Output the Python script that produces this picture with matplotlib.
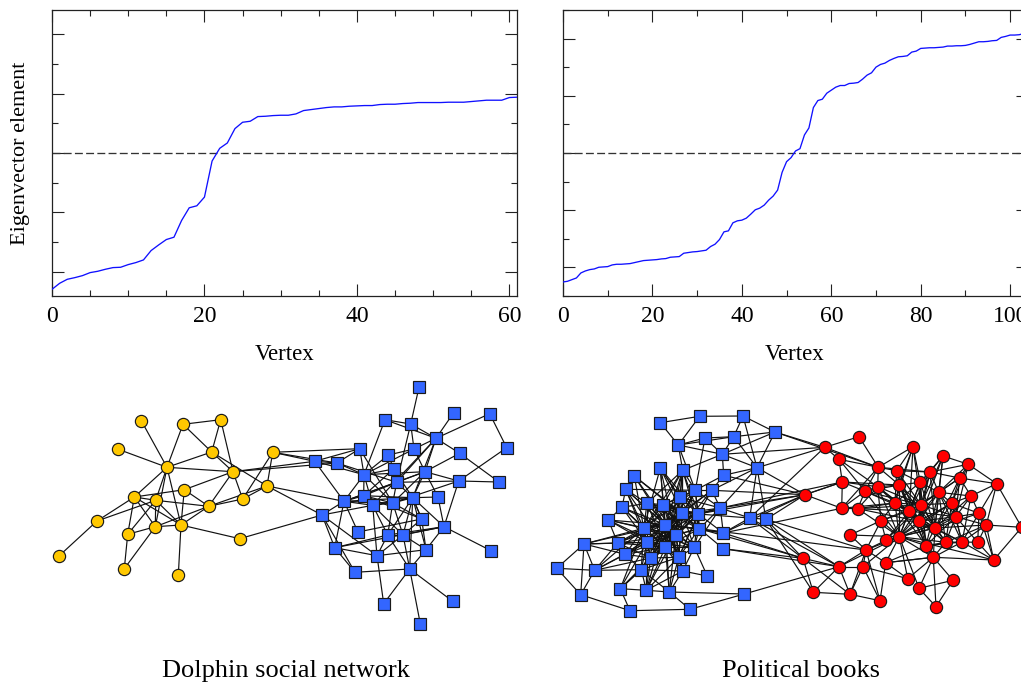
import matplotlib
matplotlib.use("Agg")
import matplotlib.pyplot as plt
import numpy as np
from matplotlib.collections import LineCollection
from matplotlib.ticker import MultipleLocator, NullFormatter

plt.rcParams['font.family'] = ['Liberation Serif', 'DejaVu Serif']

dolphin_vector = [-408,-390,-378,-373,-367,-358,-354,-348,-343,-342,-334,-328,-320,-292,-275,-259,-252,-202,-164,-158,-132,-24,14,30,73,92,95,109,110,112,113,113,117,127,130,133,136,138,138,140,141,142,142,145,146,146,148,149,151,151,151,151,152,152,152,154,156,158,158,158,166,167]
books_vector = [-386,-384,-379,-374,-359,-353,-349,-347,-342,-341,-340,-335,-333,-333,-332,-331,-328,-325,-322,-321,-320,-319,-317,-316,-312,-311,-310,-300,-298,-296,-295,-293,-291,-280,-273,-259,-236,-233,-209,-203,-201,-195,-183,-170,-165,-156,-141,-129,-111,-58,-26,-14,6,13,54,75,136,157,161,179,188,197,202,202,208,209,211,221,233,240,257,265,269,277,283,288,289,291,302,305,313,314,315,315,316,317,320,320,321,321,322,325,329,333,333,334,336,337,346,349,353,353,354,357,359]

dolphin_yellow = [(141.3,420.7),(183,424.3),(220.7,419.7),(118.3,449.3),(211.7,452),(167,467.3),(272.7,452.3),(233,471.7),(267,486),(184.3,489.7),(134.3,497),(155.7,500.3),(242.7,499),(208.7,506.3),(97,521),(155.3,526.7),(181,525),(127.7,534.3),(239.7,538.7),(59.3,555.7),(124.3,568.7),(178.3,575.3)]
dolphin_blue = [(419,387.3),(453.7,412.7),(489.7,413.7),(385,419.7),(410.7,424),(436,438.3),(506.7,447.7),(359.7,448.7),(414,449),(388.3,455),(459.7,453.3),(314.7,461.3),(337,463),(393.7,469),(425,471.7),(364,474.7),(396.7,482.3),(458.7,481),(499,482),(363.7,495.7),(344,501.3),(372.7,505.3),(392.7,503),(412.7,497.7),(438,497),(322,515),(421.7,519),(358,532),(444,526.7),(387.7,535),(403,535),(334.7,547.7),(426,549.7),(377,555.7),(491,550.7),(355,572.3),(409.7,569),(383.7,603.7),(452.7,601.3),(420.3,623.7)]
dolphin_yy = [(1,6),(2,6),(2,3),(2,5),(3,5),(3,8),(4,6),(5,6),(5,8),(5,9),(6,8),(6,11),(6,12),(6,16),(6,17),(7,9),(7,13),(8,13),(8,14),(8,10),(9,13),(9,14),(10,14),(10,17),(10,11),(11,12),(11,15),(11,18),(11,16),(11,17),(12,14),(12,16),(12,17),(12,18),(13,14),(14,16),(14,17),(15,12),(15,20),(16,17),(16,18),(16,21),(17,22),(17,19),(18,21)]
dolphin_bb = [(1,5),(2,6),(3,6),(3,7),(4,5),(4,6),(4,16),(5,6),(5,9),(5,17),(6,15),(6,24),(6,17),(6,22),(6,11),(6,9),(11,19),(11,15),(7,18),(18,19),(18,15),(18,17),(18,23),(18,29),(15,25),(15,24),(15,23),(15,17),(15,21),(15,9),(9,16),(9,10),(10,14),(10,16),(14,17),(14,24),(14,16),(14,20),(8,12),(8,13),(8,16),(8,23),(12,13),(12,16),(12,21),(13,16),(13,17),(16,20),(16,21),(16,22),(16,23),(20,21),(20,23),(20,24),(21,26),(21,22),(21,23),(21,24),(21,28),(21,32),(26,32),(26,36),(26,22),(22,34),(22,23),(22,24),(23,24),(23,30),(23,27),(24,25),(24,27),(24,33),(24,37),(25,29),(27,31),(27,33),(27,28),(29,30),(29,31),(29,33),(29,35),(30,31),(30,34),(30,37),(31,33),(31,37),(31,34),(32,34),(32,36),(32,29),(32,30),(34,33),(34,38),(36,37),(37,38),(37,39),(37,40),(33,37),
    (17,24),(17,23),(17,21),(17,20),(15,16),(24,30),(24,31),(23,31),(22,30),(20,27),(27,24),(29,24),(22,31),(26,34)]
dolphin_yb = [(7,8),(7,12),(7,13),(8,12),(8,13),(9,21),(9,26),(19,26)]

books_blue = [(660.3,422.7),(699.7,416.3),(743,416),(775,432),(705,438),(733.7,436.7),(678.3,445),(722.3,454.3),(757,467.7),(660.3,468),(682.7,470.3),(723.7,475.3),(634.3,476),(625.7,489.3),(695.3,490.3),(711.7,490.3),(680,497.3),(647,503.3),(663.3,504.7),(622,507.3),(720.3,508),(682.3,513.3),(698.3,514),(608.3,520),(749.7,518),(766,519.3),(665.3,524.7),(643.7,528.3),(699.3,528.7),(675.7,534.7),(723.3,533),(647,542.3),(617.7,543),(584,544),(665.3,547.3),(694.3,547.3),(723.3,548.7),(625.3,554.3),(650.7,558),(678.7,557.3),(556.7,568.3),(594.7,570.3),(641.3,569.7),(682.7,571),(707.3,576),(620.3,588.7),(646.3,590.3),(669.3,592),(580.7,594.7),(744.3,594),(690,609.3),(630,610.7)]
books_red = [(859,436.7),(824.7,447.3),(913,446.7),(943,456),(839,459.3),(968.3,464.3),(878.3,467.3),(896.7,470.7),(930,472),(959.7,478),(842.3,482),(920.3,482.3),(996.7,483.7),(877.7,486.7),(899.3,485),(865,491.3),(938.7,492.3),(805,494.7),(971,496),(895,503),(921,504.7),(951.7,503.3),(841.7,508.3),(857.7,508.7),(909.3,511),(979,513.3),(955.7,516.7),(881,520.7),(919,521.3),(986.3,525),(935,528),(1021.7,527.3),(850,535),(899.3,536.7),(886,540.3),(926,545.7),(945.7,542.3),(962,542),(977.7,542.3),(866,550),(803,558.3),(933.3,557.3),(993.7,560),(839,566.7),(863,566.7),(885.7,562.7),(907.7,578.7),(953,580.3),(919,588.3),(813.3,592.3),(850,594.3),(880,600.7),(936,606.7)]
books_bb = [(1,2),(1,7),(2,3),(2,7),(3,4),(3,6),(3,9),(4,6),(4,8),(4,9),(5,6),(5,7),(5,8),(6,7),(6,8),(6,9),(7,8),(7,11),(7,15),(8,9),(8,11),(8,12),(5,15),(9,12),(9,25),(9,26),(9,21),(9,16),(10,17),(10,19),(10,22),(11,15),(11,17),(11,18),(11,19),(11,22),(12,16),(12,15),(13,28),(13,27),(14,15),(14,20),(14,28),(14,18),(14,32),(18,19),(18,28),(18,27),(18,20),(19,17),(19,27),(19,28),(19,22),(19,30),(19,29),(20,24),(20,28),(20,32),(24,28),(24,33),(24,32),(28,27),(28,32),(28,30),(28,35),(28,39),(28,33),(28,38),(28,22),(28,23),(28,36),(28,40),(28,43),(27,22),(27,23),(27,30),(27,32),(27,35),(27,39),(27,40),(27,29),(27,17),(22,23),(22,30),(22,29),(22,35),(22,17),(22,15),(22,36),(23,29),(23,30),(23,15),(23,21),(23,16),(23,25),(23,35),(23,36),(23,31),(29,30),(29,36),(29,35),(29,31),(29,37),(29,21),(29,40),(30,35),(30,32),(30,36),(30,40),(30,39),(30,43),(32,35),(32,38),(32,39),(32,33),(32,43),(32,47),(35,39),(35,40),(35,36),(35,43),(35,48),(36,40),(36,44),(36,45),(39,43),(39,38),(39,40),(39,47),(39,46),(40,44),(40,48),(40,43),(40,47),(38,33),(38,34),(38,42),(38,43),(33,34),(33,42),(33,39),(34,41),(34,42),(34,49),(41,42),(41,49),(42,49),(42,43),(43,46),(43,47),(43,48),(43,44),(46,47),(46,52),(47,48),(47,44),(48,50),(48,51),(48,44),(44,45),(49,52),(52,51),(51,50),(15,16),(15,17),(15,21),(15,19),(16,21),(17,21),(17,23),(21,25),(21,31),(25,31),(25,26),(11,23),(11,29),(15,29),(15,30),(17,28),(17,35),(17,30),(18,22),(18,32),(19,23),(19,35),
    (10,27),(10,28),(10,23),(10,29),(10,30),(11,27),(11,28),(11,30),(11,35),(13,22),(13,29),(13,30),(14,27),(14,30),(14,35),(20,27),(20,30),(20,35),(24,27),(24,30),(24,35),(33,27),(33,30),(33,22),(33,35),(38,27),(38,30),(38,35),(38,22),(34,28),(34,32),(34,27),(42,28),(42,32),(42,39),(43,30),(43,27),(43,22),(46,32),(46,35),(46,28),(47,35),(47,30),(47,27),(48,30),(48,27),(44,30),(44,35),(44,27),(39,27),(39,22),(39,23),(40,27),(40,22),(40,23),(18,29),(18,23),(18,35),(18,30),(19,36),(19,40),(22,40),(22,39),(23,40),(23,39),(36,27),(36,28),(36,32),(32,22),(32,23),(32,29),(32,40),(15,27),(15,28),(15,35),(16,27),(16,30),(16,22),(21,22),(21,27),(21,28),(21,36),(31,27)]
books_rr = [(1,2),(1,7),(2,5),(2,7),(3,7),(3,8),(3,12),(3,15),(4,9),(4,6),(4,12),(4,17),(4,21),(5,11),(5,7),(5,14),(5,16),(6,13),(6,9),(6,10),(6,17),(7,8),(7,9),(7,14),(7,15),(7,16),(8,9),(8,15),(8,20),(8,12),(9,12),(9,10),(9,17),(9,21),(10,13),(10,17),(10,22),(10,19),(11,16),(11,14),(11,15),(11,18),(11,23),(12,15),(12,17),(12,20),(12,21),(12,25),(12,29),(13,19),(13,26),(13,32),(13,30),(14,15),(14,16),(14,20),(14,24),(14,28),(15,20),(15,21),(15,16),(15,25),(15,29),(15,34),(16,24),(16,20),(16,23),(17,21),(17,22),(17,27),(17,29),(17,25),(17,31),(17,19),(18,23),(18,11),(19,22),(19,26),(19,27),(20,21),(20,25),(20,24),(20,34),(20,28),(20,29),(21,22),(21,25),(21,27),(21,29),(21,31),(21,34),(21,36),(21,37),(22,26),(22,27),(22,31),(22,38),(23,24),(24,25),(25,29),(25,31),(25,34),(26,30),(26,27),(26,38),(26,43),(27,31),(27,37),(27,38),(27,39),(28,34),(28,35),(28,40),(28,33),(29,31),(29,34),(29,36),(30,32),(30,39),(30,43),(30,31),(31,34),(31,36),(31,37),(31,38),(31,42),(32,43),(33,40),(34,35),(34,36),(34,40),(34,42),(34,45),(34,46),(34,47),(34,49),(34,44),(35,40),(36,42),(37,42),(38,42),(38,39),(38,43),(39,43),(40,44),(40,45),(40,46),(40,52),(40,51),(41,50),(41,44),(41,51),(42,43),(42,46),(42,47),(42,48),(42,49),(42,53),(44,50),(44,51),(44,45),(45,51),(45,52),(45,47),(46,52),(48,49),(48,53),(49,53),(50,51),(51,52),
    (8,21),(8,25),(8,29),(9,25),(9,29),(9,31),(14,21),(14,25),(14,29),(14,34),(16,25),(16,21),(16,34),(24,34),(24,29),(24,21),(20,31),(20,36),(25,36),(25,37),(25,27),(17,34),(17,36),(17,37),(17,38),(10,21),(10,31),(10,27),(22,29),(22,34),(22,37),(27,29),(27,34),(27,36),(29,37),(29,42),(29,38),(28,21),(28,25),(28,29),(33,34),(35,21),(35,25),(35,31),(36,37),(36,38),(37,38),(4,29),(4,31),(6,22),(6,27),(19,31),(19,38),(26,39),(26,31),(30,38),(30,37),(30,27),(12,31),(12,34),(12,36),(15,31),(15,36),(3,20),(3,25),(3,21),(23,7),(23,20),(46,42),(46,47),(46,36),(34,37),(34,43)]
books_br = [(9,2),(9,18),(26,41),(26,18),(26,44),(25,18),(25,41),(21,11),(21,18),(31,18),(31,41),(37,41),(37,44),(50,44),(4,2),(8,2),(4,7),(25,2),(23,18),(12,18),(25,44),(29,41),(26,50),(26,40),(31,23),(16,18),(29,40)]

W, H = 1021, 685
BOX_TOP, BOX_BOTTOM = 10, 296
fig = plt.figure(figsize=(W / 100, H / 100), dpi=100)


def box(x0, x1):
    return [x0 / W, 1 - BOX_BOTTOM / H, (x1 - x0) / W, (BOX_BOTTOM - BOX_TOP) / H]


def eigen_panel(x0, x1, values, xmax, major, minor, ymaj):
    ax = fig.add_axes(box(x0, x1))
    ax.plot(np.arange(len(values)), values, color='#1010ff', lw=0.95, zorder=3)
    ax.axhline(0, color='#333333', lw=0.95, dashes=(6, 2.5), zorder=2)
    ax.set_xlim(0, xmax)
    ax.set_ylim(-428, 428)
    ax.xaxis.set_major_locator(MultipleLocator(major))
    ax.xaxis.set_minor_locator(MultipleLocator(minor))
    ax.yaxis.set_major_locator(MultipleLocator(ymaj))
    ax.yaxis.set_minor_locator(MultipleLocator(ymaj / 2))
    ax.yaxis.set_major_formatter(NullFormatter())
    ax.tick_params(which='both', direction='in', top=True, right=True, width=0.8, color='#222222')
    ax.tick_params(which='major', length=8.6, labelsize=17, pad=7)
    ax.tick_params(which='minor', length=4.3)
    for s in ax.spines.values():
        s.set_linewidth(0.9)
        s.set_color('#222222')
    ax.set_xlabel('Vertex', fontsize=16.5, labelpad=12.5)
    return ax


ax1 = eigen_panel(52, 517, dolphin_vector, 61, 20, 5, 178)
ax1.set_ylabel('Eigenvector element', fontsize=16, labelpad=9)
ax2 = eigen_panel(563, 1028, books_vector, 104, 20, 10, 171)
ax2.xaxis.label.set_x((795 - 563) / (1028 - 563))

net = fig.add_axes([0, 0, 1, 1], facecolor='none')
net.set_xlim(0, W)
net.set_ylim(H, 0)
net.axis('off')


def edges(ax, a, b, pairs):
    segs = [(a[i - 1], b[j - 1]) for i, j in pairs]
    ax.add_collection(LineCollection(segs, colors='#111111', linewidths=0.85, zorder=2))


def nodes(ax, pts, marker, size, color):
    p = np.array(pts)
    ax.plot(p[:, 0], p[:, 1], ls='', marker=marker, ms=size, mfc=color, mec='#1a1a1a', mew=0.85, zorder=3, clip_on=False)


edges(net, dolphin_yellow, dolphin_yellow, dolphin_yy)
edges(net, dolphin_blue, dolphin_blue, dolphin_bb)
edges(net, dolphin_yellow, dolphin_blue, dolphin_yb)
edges(net, books_blue, books_blue, books_bb)
edges(net, books_red, books_red, books_rr)
edges(net, books_blue, books_red, books_br)
nodes(net, dolphin_yellow, 'o', 8.8, '#FFC800')
nodes(net, dolphin_blue, 's', 8.0, '#3366FF')
nodes(net, books_blue, 's', 8.0, '#3366FF')
nodes(net, books_red, 'o', 8.8, '#FF0000')

net.text(286, 671, 'Dolphin social network', fontsize=19, ha='center', va='center')
net.text(801, 671, 'Political books', fontsize=19, ha='center', va='center')

fig.savefig('out.png', dpi=100)
